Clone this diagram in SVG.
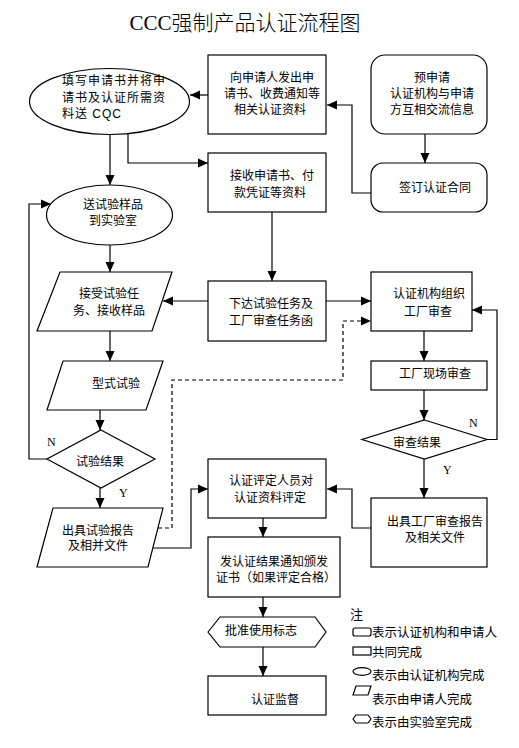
<svg xmlns="http://www.w3.org/2000/svg" width="519" height="748" viewBox="0 0 519 748">
<style>
.s{fill:#fff;stroke:#000;stroke-width:1.2}
.t{font-family:"Liberation Sans","Noto Sans CJK SC",sans-serif;font-size:12px;fill:#000;text-anchor:middle}
.l{font-family:"Liberation Sans","Noto Sans CJK SC",sans-serif;font-size:12.5px;fill:#000}
.yn{font-family:"Liberation Serif","Noto Sans CJK SC",serif;font-size:12px;fill:#000}
.c{fill:none;stroke:#000;stroke-width:1.2}
.e{text-anchor:start;letter-spacing:1px}
</style>
<defs>
<marker id="ah" markerWidth="10" markerHeight="10" refX="10" refY="5" orient="auto" markerUnits="userSpaceOnUse"><path d="M0,0.5 L10,5 L0,9.5 z" fill="#000"/></marker>
</defs>
<rect width="519" height="748" fill="#fff"/>
<text x="245" y="30" style="font-family:'Liberation Serif','Noto Sans CJK SC',serif;font-size:21px;text-anchor:middle;font-weight:300">CCC强制产品认证流程图</text>

<g id="connectors">
<path class="c" d="M208,95 H190" marker-end="url(#ah)"/>
<path class="c" d="M371,193 H352 V105 H327" marker-end="url(#ah)"/>
<path class="c" d="M425,134 V163" marker-end="url(#ah)"/>
<path class="c" d="M110,134.5 V185" marker-end="url(#ah)"/>
<path class="c" d="M128,134 V163 H208" marker-end="url(#ah)"/>
<path class="c" d="M272,212 V281" marker-end="url(#ah)"/>
<path class="c" d="M208,301 H163" marker-end="url(#ah)"/>
<path class="c" d="M326,301 H371" marker-end="url(#ah)"/>
<path class="c" d="M158,528 H172 V380 H343 V321 H371" stroke-dasharray="4,3" marker-end="url(#ah)"/>
<path class="c" d="M424,331 V361" marker-end="url(#ah)"/>
<path class="c" d="M424,390 V420" marker-end="url(#ah)"/>
<path class="c" d="M487,439.5 H497 V310 H472" marker-end="url(#ah)"/>
<path class="c" d="M424,459 V498" marker-end="url(#ah)"/>
<path class="c" d="M110,245 V272" marker-end="url(#ah)"/>
<path class="c" d="M110,331 V361" marker-end="url(#ah)"/>
<path class="c" d="M100,410 V430" marker-end="url(#ah)"/>
<path class="c" d="M47,459 H29 V204 H51" marker-end="url(#ah)"/>
<path class="c" d="M100,488 V508" marker-end="url(#ah)"/>
<path class="c" d="M153,548 H191 V489 H208" marker-end="url(#ah)"/>
<path class="c" d="M371,528 H352 V489 H327" marker-end="url(#ah)"/>
<path class="c" d="M263,518 V537" marker-end="url(#ah)"/>
<path class="c" d="M263,597 V617" marker-end="url(#ah)"/>
<path class="c" d="M263,647 V676" marker-end="url(#ah)"/>
<text class="yn" x="47" y="446">N</text>
<text class="yn" x="119" y="497">Y</text>
<text class="yn" x="469" y="427">N</text>
<text class="yn" x="443" y="474">Y</text>
</g>

<g id="n-fill">
<ellipse class="s" cx="109.5" cy="101.5" rx="80" ry="33"/>
<text class="t e" x="62" y="84.5">填写申请书并将申</text>
<text class="t e" x="62" y="101.5">请书及认证所需资</text>
<text class="t e" x="62" y="117.5">料送 CQC</text>
</g>

<g id="n-issue">
<rect class="s" x="208" y="55" width="118" height="79"/>
<text class="t" x="272" y="81.5">向申请人发出申</text>
<text class="t" x="272" y="97.5">请书、收费通知等</text>
<text class="t" x="270" y="113.5">相关认证资料</text>
</g>

<g id="n-pre">
<rect class="s" x="371" y="55" width="116" height="79" rx="14"/>
<text class="t" x="432" y="81.5">预申请</text>
<text class="t" x="432" y="97.5">认证机构与申请</text>
<text class="t" x="432" y="113.5">方互相交流信息</text>
</g>

<g id="n-contract">
<rect class="s" x="371" y="163" width="116" height="49" rx="12"/>
<text class="t" x="435" y="191.5">签订认证合同</text>
</g>

<g id="n-receive">
<rect class="s" x="208" y="153" width="118" height="59"/>
<text class="t" x="272" y="179.5">接收申请书、付</text>
<text class="t" x="270" y="196.5">款凭证等资料</text>
</g>

<g id="n-sample">
<ellipse class="s" cx="109.5" cy="215" rx="63" ry="30"/>
<text class="t" x="113" y="208.5">送试验样品</text>
<text class="t" x="113" y="224.5">到实验室</text>
</g>

<g id="n-accept">
<polygon class="s" points="60,272 172,272 152,331 37,331"/>
<text class="t" x="109" y="297.5">接受试验任</text>
<text class="t" x="109" y="314.5">务、接收样品</text>
</g>

<g id="n-task">
<rect class="s" x="208" y="281" width="118" height="60"/>
<text class="t" x="271" y="307.5">下达试验任务及</text>
<text class="t" x="271" y="324.5">工厂审查任务函</text>
</g>

<g id="n-organize">
<rect class="s" x="371" y="272" width="101" height="59"/>
<text class="t" x="429" y="297.5">认证机构组织</text>
<text class="t" x="428" y="315.5">工厂审查</text>
</g>

<g id="n-type">
<polygon class="s" points="63,361 163,361 146,410 47,410"/>
<text class="t" x="116" y="387.5">型式试验</text>
</g>

<g id="n-onsite">
<rect class="s" x="371" y="361" width="116" height="29"/>
<text class="t" x="435" y="377.5">工厂现场审查</text>
</g>

<g id="n-auditresult">
<polygon class="s" points="424.5,420 487,439.5 424.5,459 362,439.5"/>
<text class="t" x="417" y="446.5">审查结果</text>
</g>

<g id="n-testresult">
<polygon class="s" points="101,430 155,459 101,488 47,459"/>
<text class="t" x="100" y="465.5">试验结果</text>
</g>

<g id="n-testreport">
<polygon class="s" points="53,508 163,508 148,567 37,567"/>
<text class="t" x="98" y="534.5">出具试验报告</text>
<text class="t" x="98" y="549.5">及相并文件</text>
</g>

<g id="n-evaluate">
<rect class="s" x="208" y="459" width="118" height="59"/>
<text class="t" x="271" y="484.5">认证评定人员对</text>
<text class="t" x="270" y="501.5">认证资料评定</text>
</g>

<g id="n-auditreport">
<rect class="s" x="371" y="498" width="116" height="69"/>
<text class="t" x="435" y="525.5">出具工厂审查报告</text>
<text class="t" x="435" y="541.5">及相关文件</text>
</g>

<g id="n-cert">
<rect class="s" x="208" y="537" width="132" height="60"/>
<text class="t" x="274" y="565.5">发认证结果通知颁发</text>
<text class="t" x="276" y="581.5">证书（如果评定合格）</text>
</g>

<g id="n-mark">
<polygon class="s" points="208,632 220,617 315,617 326,632 315,647 220,647"/>
<text class="t" x="261" y="634.5">批准使用标志</text>
</g>

<g id="n-supervise">
<rect class="s" x="208" y="676" width="118" height="39"/>
<text class="t" x="275" y="703.5">认证监督</text>
</g>

<g id="legend">
<text class="l" x="350" y="619" style="font-size:13px">注</text>
<rect class="s" x="353" y="628" width="18" height="8" rx="2"/>
<text class="l" x="372" y="636.5">表示认证机构和申请人</text>
<rect class="s" x="353" y="647" width="18" height="8"/>
<text class="l" x="372" y="656.5">共同完成</text>
<ellipse class="s" cx="362" cy="671.5" rx="9" ry="3.8"/>
<text class="l" x="372" y="679.5">表示由认证机构完成</text>
<polygon class="s" points="356,686 371,686 368,695 353,695"/>
<text class="l" x="372" y="703.5">表示由申请人完成</text>
<polygon class="s" points="353,719 356,715 368,715 371,719 368,723 356,723"/>
<text class="l" x="372" y="726.5">表示由实验室完成</text>
</g>
</svg>
